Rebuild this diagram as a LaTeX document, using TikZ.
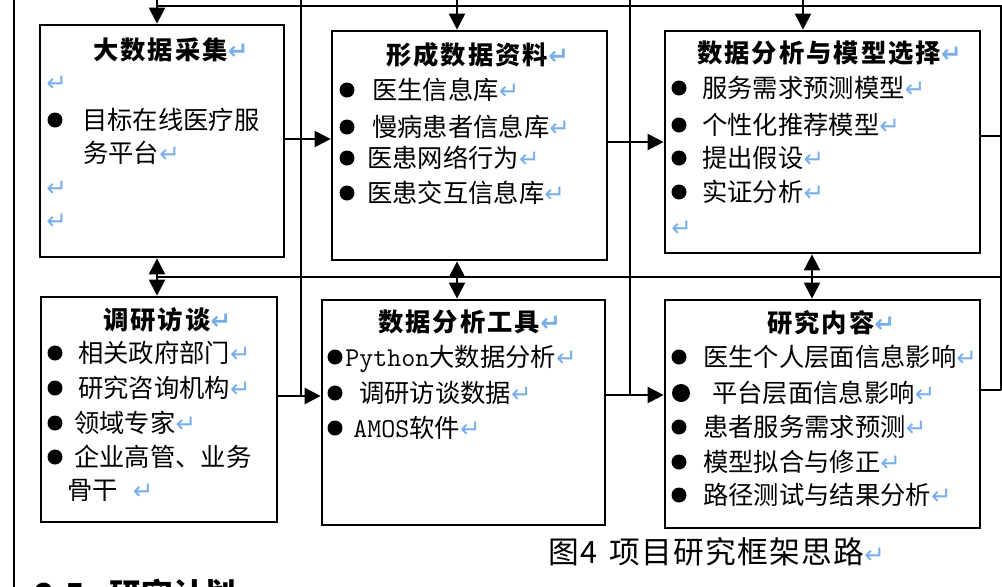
\documentclass[tikz,border=0pt]{standalone}
\usepackage{fontspec}
\newfontfamily\cjk{Noto Sans CJK SC}
\newfontfamily\cjkh{Noto Sans CJK SC}[LetterSpace=8]
\newfontfamily\cjkc{Noto Sans CJK SC}[LetterSpace=4]
\newfontfamily\dv{DejaVu Sans}
\usetikzlibrary{arrows.meta}
\definecolor{retblue}{RGB}{120,175,235}
\newcommand\ret{{\dv\color{retblue}\fontsize{14pt}{14pt}\selectfont ↵}}
\newcommand\lat[1]{{\ttfamily\fontsize{15.5pt}{17pt}\selectfont #1}}
\begin{document}
\begin{tikzpicture}[x=0.02cm,y=-0.02cm,
  box/.style={draw, line width=1.6pt, inner sep=0pt, rectangle},
  conn/.style={line width=1.3pt},
  arr/.style={conn, -{Triangle[length=0.32cm,width=0.32cm]}},
  darr/.style={conn, {Triangle[length=0.32cm,width=0.32cm]}-{Triangle[length=0.32cm,width=0.32cm]}},
  txt/.style={anchor=west, inner sep=0pt, text height=12.2pt, text depth=1.7pt, font=\cjk\fontsize{14.4pt}{17pt}\selectfont},
  head/.style={txt, font=\cjkh\bfseries\fontsize{14.4pt}{17pt}\selectfont},
  captxt/.style={txt, text height=14.5pt, text depth=2pt, font=\cjkc\fontsize{17.5pt}{20pt}\selectfont},
]
\path[use as bounding box] (0,0) rectangle (1002,586);
\clip (0,0) rectangle (1002,586);
\fill[white] (0,0) rectangle (1002,586);

% boxes
\node[box, minimum width=4.88cm, minimum height=4.64cm] (b1) at (162,141) {};
\node[box, minimum width=5.50cm, minimum height=4.58cm] (b2) at (469.5,145.5) {};
\node[box, minimum width=6.30cm, minimum height=4.44cm] (b3) at (822.5,142) {};
\node[box, minimum width=4.72cm, minimum height=4.50cm] (b4) at (159,409.5) {};
\node[box, minimum width=5.66cm, minimum height=4.50cm] (b5) at (463.5,412.5) {};
\node[box, minimum width=6.30cm, minimum height=4.56cm] (b6) at (822.5,414) {};

% helper coordinates
\coordinate (yedge) at (0,-3);
\coordinate (ytop) at (0,6);
\coordinate (ymid) at (0,277);
\coordinate (xr) at (1001,0);
\coordinate (xa) at (301,0);
\coordinate (xb) at (630,0);
\coordinate (c1) at (157,0);
\coordinate (c2) at (457,0);
\coordinate (c3) at (803,0);
\coordinate (c3b) at (812,0);
\coordinate (r1) at (0,139);
\coordinate (r2) at (0,142);
\coordinate (r3) at (0,136);
\coordinate (r4) at (0,396);
\coordinate (r5) at (0,395);
\coordinate (r6) at (0,390);
\coordinate (lt) at (14,-3);
\coordinate (lb) at (14,590);

% connectors
\draw[conn] (lt) -- (lb);
\draw[conn] (c1 |- ytop) -- (xr |- ytop) -- (xr |- r6);
\draw[conn] (c1 |- ymid) -- (xr |- ymid);
\draw[conn] (xa |- yedge) -- (xa |- r4);
\draw[conn] (xb |- yedge) -- (xb |- r5);
\draw[arr] (c1 |- yedge) -- (c1 |- b1.north);
\draw[arr] (c2 |- yedge) -- (c2 |- b2.north);
\draw[arr] (c3 |- yedge) -- (c3 |- b3.north);
\draw[darr] (c1 |- b1.south) -- (c1 |- b4.north);
\draw[darr] (c2 |- b2.south) -- (c2 |- b5.north);
\draw[darr] (c3b |- b3.south) -- (c3b |- b6.north);
\draw[arr] (b1.east |- r1) -- (b2.west |- r1);
\draw[arr] (b2.east |- r2) -- (b3.west |- r2);
\draw[conn] (b3.east |- r3) -- (xr |- r3);
\draw[arr] (b4.east |- r4) -- (b5.west |- r4);
\draw[arr] (b5.east |- r5) -- (b6.west |- r5);
\draw[conn] (b6.east |- r6) -- (xr |- r6);

% box 1
\node[head] (h1) at (93,50) {大数据采集\ret};
\node[txt] (t1a) at (46,82) {\ret};
\fill (55,120) circle[radius=0.15cm];
\node[txt] (t1b) at (82,120) {目标在线医疗服};
\node[txt] (t1c) at (83,153) {务平台\ret};
\node[txt] (t1d) at (46,187) {\ret};
\node[txt] (t1e) at (46,220) {\ret};

% box 2
\node[head] (h2) at (386,55) {形成数据资料\ret};
\foreach \y in {90,127,158,193} \fill (347,\y) circle[radius=0.15cm];
\node[txt] (t2a) at (372,90) {医生信息库\ret};
\node[txt] (t2b) at (372,127) {慢病患者信息库\ret};
\node[txt] (t2c) at (367,158) {医患网络行为\ret};
\node[txt] (t2d) at (367,193) {医患交互信息库\ret};

% box 3
\node[head] (h3) at (697,53) {数据分析与模型选择\ret};
\foreach \y in {88,125,158,192} \fill (679,\y) circle[radius=0.15cm];
\node[txt] (t3a) at (702,88) {服务需求预测模型\ret};
\node[txt] (t3b) at (702,125) {个性化推荐模型\ret};
\node[txt] (t3c) at (702,158) {提出假设\ret};
\node[txt] (t3d) at (702,192) {实证分析\ret};
\node[txt] (t3e) at (671,227) {\ret};

% box 4
\node[head] (h4) at (103,320) {调研访谈\ret};
\foreach \y in {353,388,423,457} \fill (55,\y) circle[radius=0.15cm];
\node[txt] (t4a) at (78,353) {相关政府部门\ret};
\node[txt] (t4b) at (78,388) {研究咨询机构\ret};
\node[txt] (t4c) at (74,423) {领域专家\ret};
\node[txt] (t4d) at (74,457) {企业高管、业务};
\node[txt] (t4e) at (67,490) {骨干\hspace{0.3cm}\ret};

% box 5
\node[head] (h5) at (378,322) {数据分析工具\ret};
\foreach \y in {357,393,428} \fill (335,\y) circle[radius=0.15cm];
\node[txt] (t5a) at (345,357) {\lat{Python}大数据分析\ret};
\node[txt] (t5b) at (359,393) {调研访谈数据\ret};
\node[txt] (t5c) at (353,428) {\lat{AMOS}软件\ret};

% box 6
\node[head] (h6) at (767,323) {研究内容\ret};
\foreach \y in {357,427,462,495} \fill (679,\y) circle[radius=0.15cm];
\fill (681,393) circle[radius=0.18cm];
\node[txt] (t6a) at (703,357) {医生个人层面信息影响\ret};
\node[txt] (t6b) at (712,393) {平台层面信息影响\ret};
\node[txt] (t6c) at (703,427) {患者服务需求预测\ret};
\node[txt] (t6d) at (703,462) {模型拟合与修正\ret};
\node[txt] (t6e) at (703,495) {路径测试与结果分析\ret};

% caption
\node[captxt] (capn) at (548,553) {图4\hspace{0.25cm}项目研究框架思路\ret};
\node[anchor=base west, inner sep=0pt, font=\cjk\bfseries\fontsize{18pt}{20pt}\selectfont] (sec) at (35,606) {2.5\hspace{0.5cm}研究计划\ret};
\end{tikzpicture}
\end{document}
